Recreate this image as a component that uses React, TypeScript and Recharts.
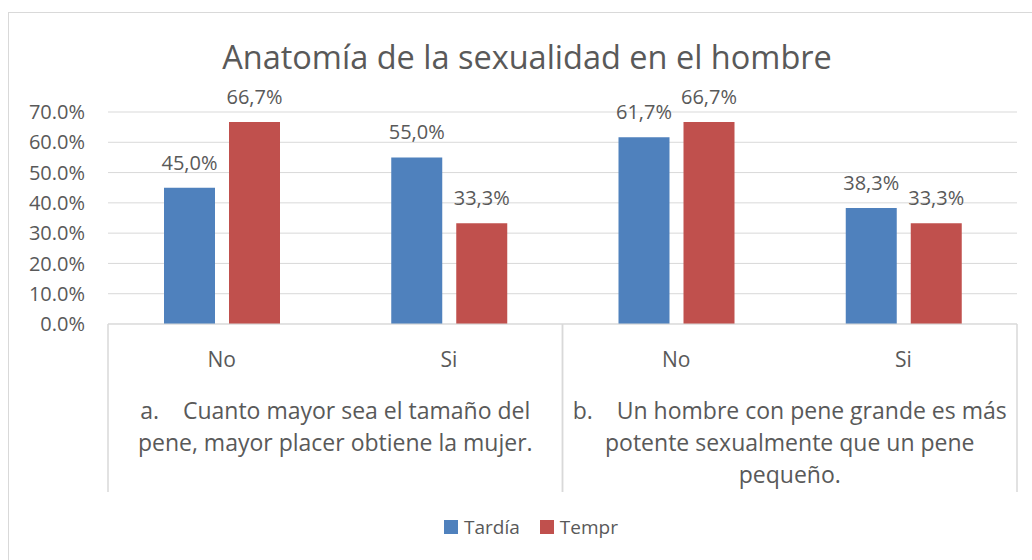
import React from 'react';
import { BarChart, Bar, XAxis, YAxis, CartesianGrid, Legend, LabelList } from 'recharts';

const categories = ['No', 'Si', 'No', 'Si'];
const groupKeys = ['a', 'a', 'b', 'b'];
const tardia = [45.0, 55.0, 61.7, 38.3];
const tempr = [66.7, 33.3, 66.7, 33.3];
const yTicks = [0, 10, 20, 30, 40, 50, 60, 70];
const groupOrder = ['a', 'b'];
const groupLines: string[][] = [
  ['a.    Cuanto mayor sea el tamaño del', 'pene, mayor placer obtiene la mujer.'],
  ['b.    Un hombre con pene grande es más', 'potente sexualmente que un pene', 'pequeño.'],
];
const title = 'Anatomía de la sexualidad en el hombre';

const data = categories.map((c, i) => ({
  cat: c,
  group: groupKeys[i],
  'Tardía': tardia[i],
  'Tempr': tempr[i],
}));

const FONT = '"Open Sans", Lato, sans-serif';
const TEXT = '#595959';
const GRID = '#D9D9D9';

const GroupTick = (props: any) => {
  const { x, y, payload, width } = props;
  const w = typeof width === 'number' && width > 0 ? width : 909;
  const band = w / groupOrder.length;
  const idx = groupOrder.indexOf(payload.value);
  const lines = groupLines[idx] || [];
  return (
    <g>
      <line x1={x - band / 2} x2={x - band / 2} y1={y - 60} y2={y + 108} stroke={GRID} strokeWidth={1.5} />
      <line x1={x + band / 2} x2={x + band / 2} y1={y - 60} y2={y + 108} stroke={GRID} strokeWidth={1.5} />
      <text textAnchor="middle" fill={TEXT} fontSize={23} fontFamily={FONT} xmlSpace="preserve" style={{ whiteSpace: 'pre' }}>
        {lines.map((l, i) => (
          <tspan key={i} x={x} y={y + 35 + i * 32}>{l}</tspan>
        ))}
      </text>
    </g>
  );
};

const LegendContent = (props: any) => {
  const { payload } = props;
  return (
    <div style={{ display: 'flex', justifyContent: 'center', alignItems: 'center', height: 26, paddingLeft: 37, fontFamily: FONT, fontSize: 19, color: TEXT, gap: 20 }}>
      {(payload || []).map((p: any) => (
        <span key={p.value} style={{ display: 'flex', alignItems: 'center' }}>
          <span style={{ display: 'inline-block', width: 14, height: 14, background: p.color, marginRight: 6 }} />
          {p.value}
        </span>
      ))}
    </div>
  );
};

const fmtLabel = (v: any) => Number(v).toFixed(1).replace('.', ',') + '%';

export default function App() {
  return (
    <div style={{ position: 'absolute', left: 0, top: 0, width: 1032, height: 560, background: '#fff', overflow: 'hidden' }}>
      <div style={{ position: 'absolute', left: 8, top: 12, width: 1100, height: 600, borderTop: `1.5px solid ${GRID}`, borderLeft: `1.5px solid ${GRID}` }} />
      <div style={{ position: 'absolute', left: 0, top: 38, width: 1054, textAlign: 'center', fontFamily: FONT, fontSize: 32.5, lineHeight: '38px', color: TEXT }}>
        {title}
      </div>
      <BarChart width={1032} height={560} data={data} margin={{ top: 112, right: 15, left: 8, bottom: 20 }} barSize={51} barGap={14}>
        <CartesianGrid vertical={false} stroke={GRID} />
        <XAxis dataKey="cat" height={60} axisLine={{ stroke: GRID }} tickLine={false} tickSize={0} tickMargin={28}
          tick={{ fontSize: 21, fill: TEXT, fontFamily: FONT }} interval={0} />
        <XAxis xAxisId="g" dataKey="group" allowDuplicatedCategory={false} height={130} axisLine={false} tickLine={false}
          tickSize={0} tickMargin={0} tick={<GroupTick />} interval={0} />
        <YAxis width={100} domain={[0, 70]} ticks={yTicks} interval={0} axisLine={false} tickLine={false} tickSize={0} tickMargin={23}
          tickFormatter={(v: number) => v.toFixed(1) + '%'} tick={{ fontSize: 20, fill: TEXT, fontFamily: FONT }} />
        <Legend verticalAlign="bottom" content={<LegendContent />} />
        <Bar dataKey="Tardía" fill="#4F81BD" isAnimationActive={false}>
          <LabelList dataKey="Tardía" position="top" offset={18} formatter={fmtLabel} style={{ fontSize: 20, fill: TEXT, fontFamily: FONT }} />
        </Bar>
        <Bar dataKey="Tempr" fill="#C0504D" isAnimationActive={false}>
          <LabelList dataKey="Tempr" position="top" offset={18} formatter={fmtLabel} style={{ fontSize: 20, fill: TEXT, fontFamily: FONT }} />
        </Bar>
      </BarChart>
    </div>
  );
}
